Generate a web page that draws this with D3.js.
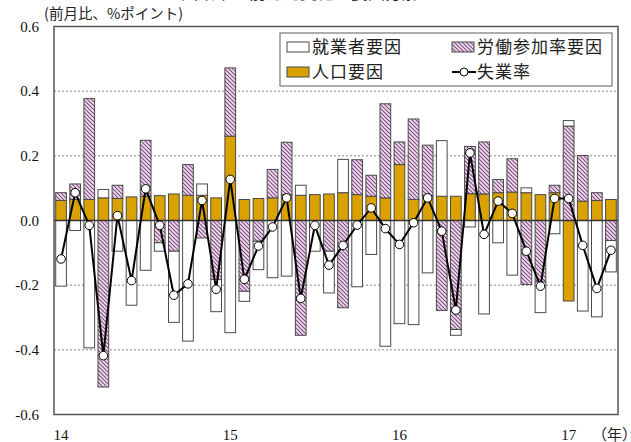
<!DOCTYPE html>
<html>
<head>
<meta charset="utf-8">
<script src="https://cdn.jsdelivr.net/npm/d3@7"></script>
<style>
  body { margin: 0; background: #fff; }
  svg { display: block; }
  .num { font-family: "Liberation Serif", "DejaVu Serif", serif; font-size: 15px; fill: #111; }
  .jp { font-family: "Noto Sans CJK JP", sans-serif; fill: #222; }
</style>
</head>
<body>
<svg id="chart" width="631" height="442"></svg>
<script>
////////////////////////////////////////////
// DATA (monthly, Jan 2014 - Apr 2017)
////////////////////////////////////////////

const yearLabels = ["14", "15", "16", "17"];   // at Jan of each year
const seriesNames = ["就業者要因", "労働参加率要因", "人口要因", "失業率"];

// 就業者要因
const empFactor = [
  -0.203, -0.031, -0.394, 0.026, -0.095, -0.262, -0.154, -0.026, -0.220, -0.373,
  0.035, -0.100, -0.347, -0.031, -0.088, -0.177, -0.172, 0.031, -0.095, -0.129,
  0.103, -0.205, -0.105, -0.389, -0.319, -0.322, -0.162, 0.172, -0.018, -0.020,
  -0.289, -0.069, -0.169, 0.015, -0.095, -0.041, 0.017, -0.280, -0.298, -0.097
];
// 労働参加率要因
const lfpFactor = [
  0.024, 0.048, 0.312, -0.515, 0.041, 0.000, 0.173, -0.069, -0.095, 0.095,
  -0.054, -0.182, 0.211, -0.219, -0.064, 0.088, 0.162, -0.355, 0.000, -0.095,
  -0.270, 0.108, 0.065, 0.291, 0.070, 0.249, 0.155, -0.278, -0.337, 0.146,
  0.161, 0.041, 0.103, -0.198, -0.190, 0.023, 0.292, 0.141, 0.024, -0.062
];
// 人口要因
const popFactor = [
  0.062, 0.065, 0.065, 0.070, 0.068, 0.073, 0.075, 0.077, 0.082, 0.078,
  0.078, 0.070, 0.261, 0.065, 0.068, 0.070, 0.080, 0.078, 0.080, 0.082,
  0.086, 0.080, 0.075, 0.070, 0.173, 0.065, 0.078, 0.075, 0.075, 0.083,
  0.082, 0.086, 0.088, 0.086, 0.080, 0.086, -0.249, 0.060, 0.062, 0.065
];
// 失業率（前月比）
const rateChange = [
  -0.119, 0.086, -0.015, -0.418, 0.015, -0.186, 0.098, -0.015, -0.231, -0.196,
  0.062, -0.213, 0.127, -0.182, -0.079, -0.020, 0.070, -0.241, -0.015, -0.138,
  -0.077, -0.014, 0.039, -0.025, -0.074, -0.007, 0.070, -0.033, -0.277, 0.209,
  -0.043, 0.060, 0.022, -0.095, -0.203, 0.068, 0.068, -0.077, -0.210, -0.092
];

const yTicks = [-0.6, -0.4, -0.2, 0.0, 0.2, 0.4, 0.6];

////////////////////////////////////////////
// SETUP
////////////////////////////////////////////

const svg = d3.select("#chart");
const plotL = 54, plotR = 618, plotT = 26.5, plotB = 414.5;

const months = d3.range(empFactor.length);
const rows = months.map(i => ({i: i, pop: popFactor[i], lfp: lfpFactor[i], emp: empFactor[i]}));

const x = d3.scaleBand().domain(months).range([plotL, plotR]).paddingInner(0.24).paddingOuter(0.12);
const y = d3.scaleLinear().domain([-0.6, 0.6]).range([plotB, plotT]);

// hatch pattern for 労働参加率要因
const defs = svg.append("defs");
const pat = defs.append("pattern")
  .attr("id", "hatch")
  .attr("patternUnits", "userSpaceOnUse")
  .attr("width", 4).attr("height", 4);
pat.append("rect").attr("width", 4).attr("height", 4).attr("fill", "#f2dcef");
pat.append("path")
  .attr("d", "M-1,-1L5,5M-1,3L1,5M3,-1L5,1")
  .attr("stroke", "#7b4f7e")
  .attr("stroke-width", 1.1);

const fills = {pop: "#d9a200", lfp: "url(#hatch)", emp: "#ffffff"};

// cut-off title at the very top (only its lowest edge shows)
svg.append("text")
  .attr("class", "jp")
  .attr("x", 300).attr("y", -1)
  .attr("text-anchor", "middle")
  .attr("font-size", 17)
  .attr("fill", "#555")
  .text("失業率の前月比変化の要因分解");

// unit label
svg.append("text")
  .attr("class", "jp")
  .attr("x", 44).attr("y", 19)
  .attr("font-size", 14.5)
  .text("(前月比、%ポイント)");

// gridlines
svg.append("g")
  .selectAll("line")
  .data(yTicks.filter(d => d !== 0 && Math.abs(d) < 0.6))
  .join("line")
  .attr("x1", plotL).attr("x2", plotR)
  .attr("y1", d => y(d)).attr("y2", d => y(d))
  .attr("stroke", "#8a8a8a")
  .attr("stroke-width", 1)
  .attr("stroke-dasharray", "2,2");

// y axis labels
svg.append("g")
  .selectAll("text")
  .data(yTicks)
  .join("text")
  .attr("class", "num")
  .attr("x", 39)
  .attr("y", d => y(d) + 5)
  .attr("text-anchor", "end")
  .text(d => d3.format(".1f")(d).replace("−", "-"));

////////////////////////////////////////////
// BARS
////////////////////////////////////////////

const stack = d3.stack().keys(["pop", "lfp", "emp"]).offset(d3.stackOffsetDiverging);
const layers = stack(rows);

svg.append("g")
  .selectAll("g")
  .data(layers)
  .join("g")
  .attr("fill", d => fills[d.key])
  .selectAll("rect")
  .data(d => d.filter(s => s[1] !== s[0]))
  .join("rect")
  .attr("x", d => x(d.data.i))
  .attr("width", x.bandwidth())
  .attr("y", d => y(Math.max(d[0], d[1])))
  .attr("height", d => Math.abs(y(d[0]) - y(d[1])))
  .attr("stroke", "#4a4a4a")
  .attr("stroke-width", 1);

// zero line
svg.append("line")
  .attr("x1", plotL).attr("x2", plotR)
  .attr("y1", y(0)).attr("y2", y(0))
  .attr("stroke", "#333")
  .attr("stroke-width", 1.6);

// frame
svg.append("rect")
  .attr("x", plotL).attr("y", plotT)
  .attr("width", plotR - plotL).attr("height", plotB - plotT)
  .attr("fill", "none")
  .attr("stroke", "#555")
  .attr("stroke-width", 1.5);

////////////////////////////////////////////
// LINE
////////////////////////////////////////////

const cx = i => x(i) + x.bandwidth() / 2;

svg.append("path")
  .datum(rateChange)
  .attr("fill", "none")
  .attr("stroke", "#000")
  .attr("stroke-width", 2)
  .attr("d", d3.line().x((d, i) => cx(i)).y(d => y(d)));

svg.append("g")
  .selectAll("circle")
  .data(rateChange)
  .join("circle")
  .attr("cx", (d, i) => cx(i))
  .attr("cy", d => y(d))
  .attr("r", 4.3)
  .attr("fill", "#fff")
  .attr("stroke", "#000")
  .attr("stroke-width", 1);

// x labels
svg.append("g")
  .selectAll("text")
  .data(yearLabels)
  .join("text")
  .attr("class", "num")
  .attr("x", (d, k) => cx(k * 12))
  .attr("y", 440)
  .attr("text-anchor", "middle")
  .text(d => d);

svg.append("text")
  .attr("class", "jp")
  .attr("x", 592).attr("y", 440)
  .attr("font-size", 15)
  .text("（年）");

////////////////////////////////////////////
// LEGEND
////////////////////////////////////////////

const lg = svg.append("g");
lg.append("rect")
  .attr("x", 280).attr("y", 33)
  .attr("width", 332).attr("height", 53)
  .attr("fill", "#fff")
  .attr("stroke", "#777")
  .attr("stroke-width", 1.2);

const legendItems = [
  {name: seriesNames[0], kind: "emp", x: 287, y: 47},
  {name: seriesNames[1], kind: "lfp", x: 452, y: 47},
  {name: seriesNames[2], kind: "pop", x: 287, y: 72},
  {name: seriesNames[3], kind: "line", x: 452, y: 72}
];

legendItems.forEach(it => {
  if (it.kind === "line") {
    lg.append("line")
      .attr("x1", it.x).attr("x2", it.x + 24)
      .attr("y1", it.y).attr("y2", it.y)
      .attr("stroke", "#000").attr("stroke-width", 2);
    lg.append("circle")
      .attr("cx", it.x + 12).attr("cy", it.y).attr("r", 4)
      .attr("fill", "#fff").attr("stroke", "#000").attr("stroke-width", 1);
  } else {
    lg.append("rect")
      .attr("x", it.x).attr("y", it.y - 5)
      .attr("width", 22).attr("height", 10)
      .attr("fill", fills[it.kind])
      .attr("stroke", "#4a4a4a").attr("stroke-width", 1);
  }
  lg.append("text")
    .attr("class", "jp")
    .attr("x", it.x + 25).attr("y", it.y + 6)
    .attr("font-size", 17)
    .attr("letter-spacing", 1)
    .text(it.name);
});
</script>
</body>
</html>
